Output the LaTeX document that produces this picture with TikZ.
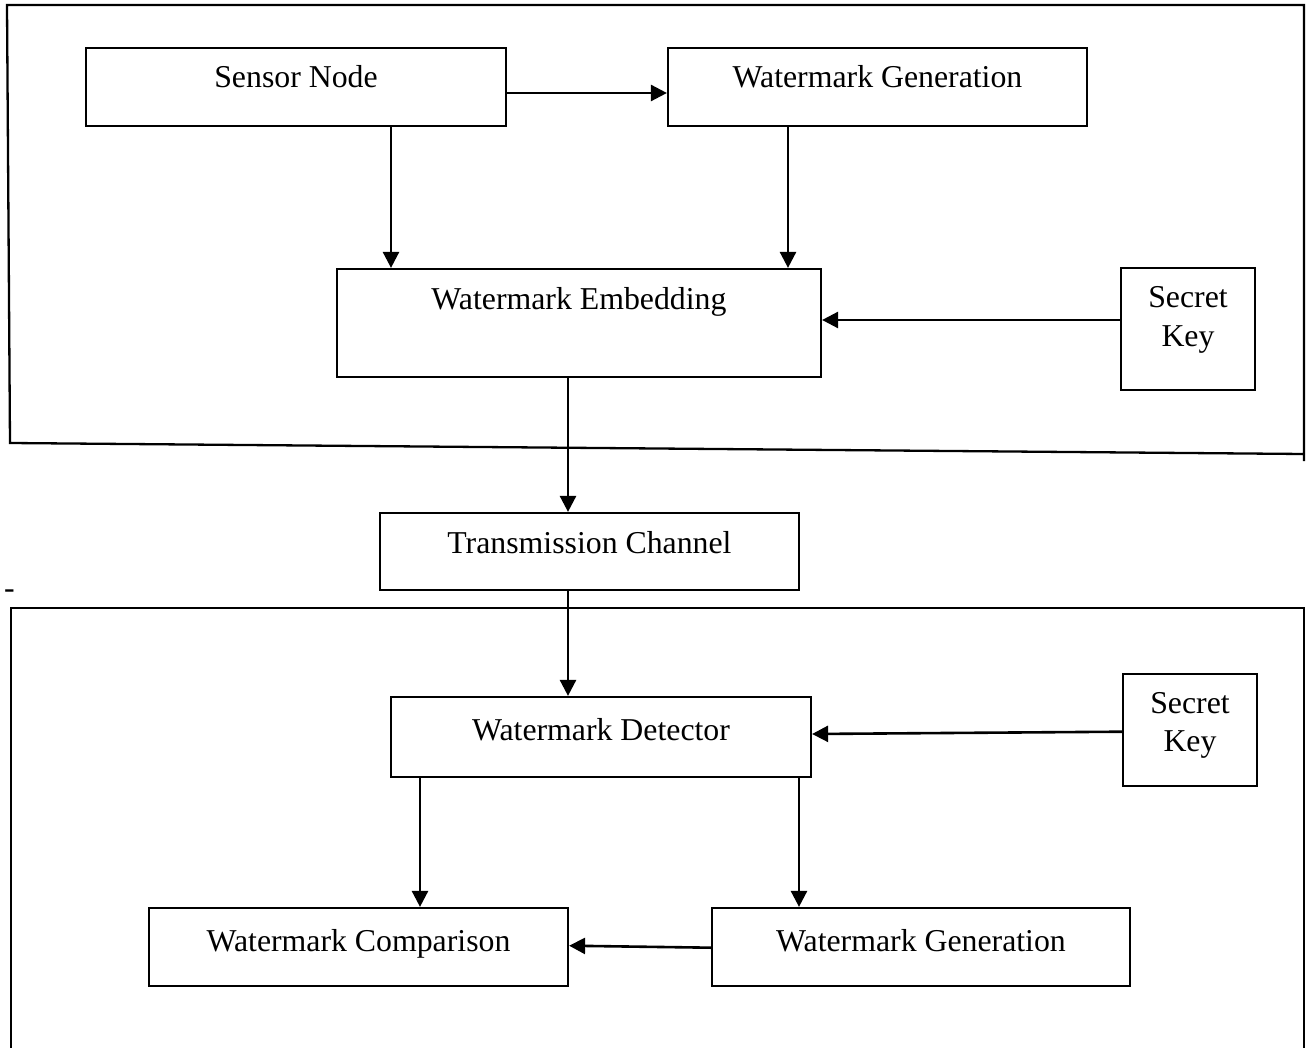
\documentclass[tikz,border=0pt]{standalone}
\usepackage{fontspec}
\setmainfont{Liberation Serif}
\usetikzlibrary{arrows.meta}
\begin{document}
\begin{tikzpicture}[x=1pt,y=-1pt,
  box/.style={draw, line width=2.2pt, inner sep=0pt, anchor=center},
  txt/.style={inner sep=0pt, anchor=base, font=\fontsize{31.8pt}{39pt}\selectfont},
  frame/.style={draw, line width=2.3pt, line join=miter},
  arr/.style={draw, line width=2.6pt, -{Triangle[length=16pt,width=16pt]}}]
\useasboundingbox (0,0) rectangle (1306,1048);
% frames
\draw[frame] (1304,461) -- (1304,5) -- (7,5) -- (10,443) -- (1304,454);
\draw[frame] (11,1048) -- (11,608) -- (1304,608) -- (1304,1048);
\node[txt, anchor=base west] (dash) at (4,598) {-};
% boxes
\node[box, minimum width=420pt, minimum height=78pt] (sn) at (296,87) {};
\node[box, minimum width=419pt, minimum height=78pt] (wgt) at (877.5,87) {};
\node[box, minimum width=484pt, minimum height=108pt] (emb) at (579,323) {};
\node[box, minimum width=134pt, minimum height=122pt] (sk1) at (1188,329) {};
\node[box, minimum width=419pt, minimum height=77pt] (tc) at (589.5,551.5) {};
\node[box, minimum width=420pt, minimum height=80pt] (det) at (601,737) {};
\node[box, minimum width=134pt, minimum height=112pt] (sk2) at (1190,730) {};
\node[box, minimum width=419pt, minimum height=78pt] (cmp) at (358.5,947) {};
\node[box, minimum width=418pt, minimum height=78pt] (wgb) at (921,947) {};
% texts
\node[txt] (snt) at (296,88) {Sensor Node};
\node[txt] (wgtt) at (877.5,88) {Watermark Generation};
\node[txt] (embt) at (579,310) {Watermark Embedding};
\node[txt] (sk1a) at (1188,308) {Secret};
\node[txt] (sk1b) at (1188,347) {Key};
\node[txt] (tct) at (589.5,553) {Transmission Channel};
\node[txt] (dett) at (601,740) {Watermark Detector};
\node[txt] (sk2a) at (1190,713) {Secret};
\node[txt] (sk2b) at (1190,751) {Key};
\node[txt] (cmpt) at (358.5,951) {Watermark Comparison};
\node[txt] (wgbt) at (921,951) {Watermark Generation};
% arrows
\draw[arr] ([yshift=-6pt]sn.east) -- ([yshift=-6pt]wgt.west);
\draw[arr] ([xshift=95pt]sn.south) -- ([xshift=-188pt]emb.north);
\draw[arr] ([xshift=-89.5pt]wgt.south) -- ([xshift=209pt]emb.north);
\draw[arr] ([yshift=9pt]sk1.west) -- ([yshift=3pt]emb.east);
\draw[arr] ([xshift=-11pt]emb.south) -- ([xshift=-21.5pt]tc.north);
\draw[arr] ([xshift=-21.5pt]tc.south) -- ([xshift=-33pt]det.north);
\draw[arr] ([yshift=-1.7pt]sk2.west) -- ([yshift=3pt]det.east);
\draw[arr] ([xshift=-181pt]det.south) -- ([xshift=61.5pt]cmp.north);
\draw[arr] ([xshift=198pt]det.south) -- ([xshift=-122pt]wgb.north);
\draw[arr] ([yshift=-0.7pt]wgb.west) -- ([yshift=1.3pt]cmp.east);
\end{tikzpicture}
\end{document}
